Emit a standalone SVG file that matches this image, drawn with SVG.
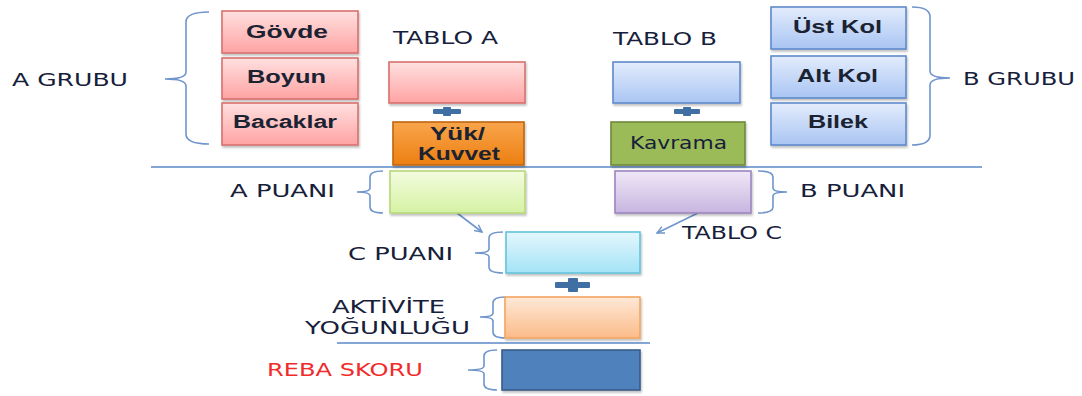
<svg xmlns="http://www.w3.org/2000/svg" width="1082" height="396" viewBox="0 0 1082 396">
<style>
.lbl{font-family:"DejaVu Sans","Liberation Sans",sans-serif;font-size:18px;fill:#16203a;}
.bl{font-family:"Liberation Sans","DejaVu Sans",sans-serif;font-size:18px;font-weight:bold;fill:#1b2333;}
.br{fill:none;stroke:#6f95cc;stroke-width:1.6;}
.sep{stroke:#5a88c6;stroke-width:1.5;}
.plus{fill:#3f6fa3;}
.con{fill:none;stroke:#6f95cc;stroke-width:1.6;}
.box{stroke-width:1.6;filter:url(#sh);}
</style>
<defs>
<filter id="sh" x="-10%" y="-10%" width="130%" height="140%"><feDropShadow dx="1" dy="2" stdDeviation="1.2" flood-color="#000" flood-opacity="0.25"/></filter>
<linearGradient id="gPink" x1="0" y1="0" x2="0" y2="1"><stop offset="0" stop-color="#ffe0e0"/><stop offset="1" stop-color="#ffa3a3"/></linearGradient>
<linearGradient id="gBlue" x1="0" y1="0" x2="0" y2="1"><stop offset="0" stop-color="#e3ecfc"/><stop offset="1" stop-color="#a9c5f3"/></linearGradient>
<linearGradient id="gOr" x1="0" y1="0" x2="0" y2="1"><stop offset="0" stop-color="#f9a54b"/><stop offset="1" stop-color="#ec7f12"/></linearGradient>
<linearGradient id="gGreen" x1="0" y1="0" x2="0" y2="1"><stop offset="0" stop-color="#f3fcdf"/><stop offset="1" stop-color="#d5f2a3"/></linearGradient>
<linearGradient id="gPurp" x1="0" y1="0" x2="0" y2="1"><stop offset="0" stop-color="#efe8f7"/><stop offset="1" stop-color="#c8b5e0"/></linearGradient>
<linearGradient id="gCyan" x1="0" y1="0" x2="0" y2="1"><stop offset="0" stop-color="#e4f7fd"/><stop offset="1" stop-color="#a3e3f6"/></linearGradient>
<linearGradient id="gLor" x1="0" y1="0" x2="0" y2="1"><stop offset="0" stop-color="#fee9d8"/><stop offset="1" stop-color="#fbbb89"/></linearGradient>
<marker id="arr" viewBox="0 0 10 10" refX="9" refY="5" markerWidth="9" markerHeight="9" orient="auto" markerUnits="userSpaceOnUse"><path d="M1,1 L9,5 L1,9" fill="none" stroke="#6f95cc" stroke-width="1.6"/></marker>
</defs>

<!-- separators -->
<line class="sep" x1="151" y1="167" x2="982" y2="167"/>
<line class="sep" x1="337" y1="343" x2="650" y2="343"/>

<!-- braces -->
<g id="braces">
<path class="br" d="M209,12 Q186,12 186,22 L186,72 Q186,79 165,79 Q186,79 186,86 L186,134 Q186,144 209,144"/>
<path class="br" d="M912,7 Q930,7 930,17 L930,71 Q930,78 950,78 Q930,78 930,85 L930,135 Q930,145 912,145"/>
<path class="br" d="M383,171 Q370,171 370,177 L370,188 Q370,192 357,192 Q370,192 370,196 L370,207 Q370,213 383,213"/>
<path class="br" d="M758,171 Q773,171 773,177 L773,188 Q773,192 787,192 Q773,192 773,196 L773,207 Q773,213 758,213"/>
<path class="br" d="M503,232 Q489,232 489,238 L489,249 Q489,253 475,253 Q489,253 489,257 L489,267 Q489,273 503,273"/>
<path class="br" d="M505,297 Q493,297 493,303 L493,313 Q493,317 480,317 Q493,317 493,321 L493,332 Q493,338 505,338"/>
<path class="br" d="M497,350 Q484,350 484,356 L484,366 Q484,370 468,370 Q484,370 484,374 L484,384 Q484,390 497,390"/>
</g>

<!-- connectors -->
<g id="connectors">
<line class="con" x1="457" y1="213" x2="482" y2="232" marker-end="url(#arr)"/>
<line class="con" x1="698" y1="213" x2="657" y2="233" marker-end="url(#arr)"/>
</g>

<!-- plus signs -->
<g id="plusA"><rect class="plus" x="433" y="109" width="28" height="5" rx="1"/><rect class="plus" x="443" y="107" width="8" height="9" rx="1"/></g>
<g id="plusB"><rect class="plus" x="674" y="109" width="26" height="5" rx="1"/><rect class="plus" x="683" y="107" width="8" height="9" rx="1"/></g>
<g id="plusC"><rect class="plus" x="555" y="282" width="35" height="6" rx="1"/><rect class="plus" x="568" y="278" width="10" height="14" rx="1"/></g>

<!-- labels -->
<g id="labels">
<text class="lbl" x="12" y="86" textLength="116" lengthAdjust="spacingAndGlyphs">A GRUBU</text>
<text class="lbl" x="963" y="85" textLength="112" lengthAdjust="spacingAndGlyphs">B GRUBU</text>
<text class="lbl" x="393" y="44" textLength="105" lengthAdjust="spacingAndGlyphs">TABLO A</text>
<text class="lbl" x="613" y="45" textLength="104" lengthAdjust="spacingAndGlyphs">TABLO B</text>
<text class="lbl" x="230" y="197" textLength="105" lengthAdjust="spacingAndGlyphs">A PUANI</text>
<text class="lbl" x="800" y="197" textLength="105" lengthAdjust="spacingAndGlyphs">B PUANI</text>
<text class="lbl" x="682" y="239" textLength="100" lengthAdjust="spacingAndGlyphs">TABLO C</text>
<text class="lbl" x="348" y="260" textLength="105" lengthAdjust="spacingAndGlyphs">C PUANI</text>
<text class="lbl" x="332" y="313" textLength="113" lengthAdjust="spacingAndGlyphs">AKTİVİTE</text>
<text class="lbl" x="305" y="334" textLength="165" lengthAdjust="spacingAndGlyphs">YOĞUNLUĞU</text>
<text class="lbl" x="267" y="376" style="fill:#f22a2a" textLength="156" lengthAdjust="spacingAndGlyphs">REBA SKORU</text>
</g>

<!-- A group -->
<g id="govde"><rect class="box" x="222" y="11" width="136" height="42" fill="url(#gPink)" stroke="#d9706d"/><text class="bl" x="246" y="38" textLength="82" lengthAdjust="spacingAndGlyphs">Gövde</text></g>
<g id="boyun"><rect class="box" x="222" y="58" width="136" height="41" fill="url(#gPink)" stroke="#d9706d"/><text class="bl" x="247" y="83" textLength="79" lengthAdjust="spacingAndGlyphs">Boyun</text></g>
<g id="bacaklar"><rect class="box" x="222" y="103" width="136" height="42" fill="url(#gPink)" stroke="#d9706d"/><text class="bl" x="233" y="128" textLength="104" lengthAdjust="spacingAndGlyphs">Bacaklar</text></g>
<g id="tabloA"><rect class="box" x="389" y="62" width="136" height="41" fill="url(#gPink)" stroke="#d9706d"/></g>
<g id="yuk"><rect class="box" x="393" y="122" width="131" height="43" fill="url(#gOr)" stroke="#c0650e"/><text class="bl" x="430" y="140" textLength="55" lengthAdjust="spacingAndGlyphs">Yük/</text><text class="bl" x="418" y="160" textLength="82" lengthAdjust="spacingAndGlyphs">Kuvvet</text></g>

<!-- B group -->
<g id="tabloB"><rect class="box" x="613" y="62" width="127" height="41" fill="url(#gBlue)" stroke="#5f8acb"/></g>
<g id="kavrama"><rect class="box" x="611" y="122" width="134" height="43" fill="#9bbb59" stroke="#6f8a3c"/><text class="lbl" x="630" y="149" font-size="15" textLength="97" lengthAdjust="spacingAndGlyphs">Kavrama</text></g>
<g id="ustkol"><rect class="box" x="771" y="7" width="135" height="42" fill="url(#gBlue)" stroke="#5f8acb"/><text class="bl" x="793" y="33" textLength="89" lengthAdjust="spacingAndGlyphs">Üst Kol</text></g>
<g id="altkol"><rect class="box" x="771" y="56" width="135" height="42" fill="url(#gBlue)" stroke="#5f8acb"/><text class="bl" x="797" y="82" textLength="81" lengthAdjust="spacingAndGlyphs">Alt Kol</text></g>
<g id="bilek"><rect class="box" x="771" y="103" width="135" height="42" fill="url(#gBlue)" stroke="#5f8acb"/><text class="bl" x="808" y="128" textLength="60" lengthAdjust="spacingAndGlyphs">Bilek</text></g>

<!-- scores -->
<g id="apuani"><rect class="box" x="390" y="171" width="135" height="42" fill="url(#gGreen)" stroke="#b7d77a"/></g>
<g id="bpuani"><rect class="box" x="615" y="171" width="136" height="42" fill="url(#gPurp)" stroke="#9c86c0"/></g>
<g id="cpuani"><rect class="box" x="506" y="232" width="134" height="41" fill="url(#gCyan)" stroke="#62c3dc"/></g>
<g id="aktivite"><rect class="box" x="505" y="297" width="135" height="41" fill="url(#gLor)" stroke="#f5a560"/></g>
<g id="reba"><rect class="box" x="502" y="350" width="138" height="40" fill="#4f81bd" stroke="#385d8a" stroke-width="2.2"/></g>
</svg>
